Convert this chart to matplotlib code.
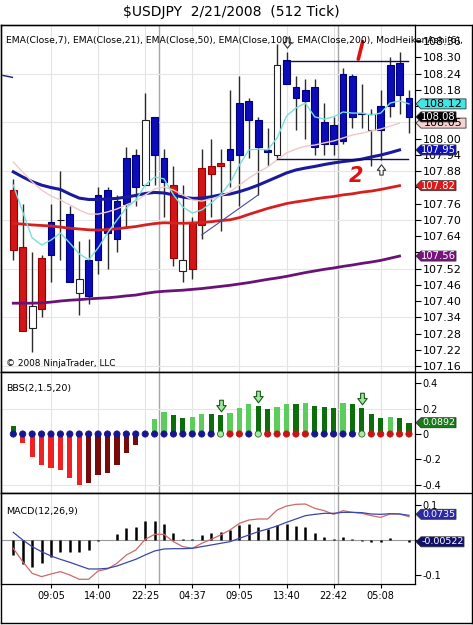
import matplotlib
matplotlib.use("Agg")
import matplotlib.pyplot as plt
import numpy as np
from matplotlib.patches import Rectangle, Polygon
from matplotlib.lines import Line2D
from matplotlib.path import Path

# ---------------- data ----------------
title = "$USDJPY  2/21/2008  (512 Tick)"
header = ("EMA(Close,7), EMA(Close,21), EMA(Close,50), EMA(Close,100), "
          "EMA(Close,200), ModHeikenAshi(6),")
copyright_txt = "\u00a9 2008 NinjaTrader, LLC"
bbs_title = "BBS(2,1.5,20)"
macd_title = "MACD(12,26,9)"

time_ticks = [4, 9, 14, 19, 24, 29, 34, 39]
time_labels = ["09:05", "14:00", "22:25", "04:37", "09:05", "13:40", "22:42", "05:08"]
session_breaks = [15.5, 34.5]

# Heiken-Ashi style candles
opens = [107.81, 107.60, 107.30, 107.56, 107.57, 107.70, 107.47, 107.43, 107.42, 107.55,
         107.65, 107.63, 107.76, 107.82, 107.83, 107.94, 107.84, 107.83, 107.51, 107.69,
         107.89, 107.90, 107.91, 107.92, 107.94, 108.07, 107.97, 107.952, 107.94, 108.20,
         108.15, 108.14, 107.97, 107.98, 107.98, 107.99, 108.08, 108.091, 108.03, 108.03,
         108.12, 108.16, 108.08]
highs = [107.85, 107.76, 107.58, 107.57, 107.76, 107.88, 107.75, 107.62, 107.63, 107.82,
         107.82, 107.79, 107.97, 107.96, 108.17, 108.08, 107.96, 107.90, 107.83, 107.71,
         107.96, 108.00, 107.96, 108.18, 108.23, 108.15, 108.08, 108.04, 108.35, 108.32,
         108.23, 108.22, 108.22, 108.13, 108.08, 108.26, 108.24, 108.20, 108.11, 108.18,
         108.30, 108.32, 108.18]
lows = [107.55, 107.29, 107.21, 107.34, 107.47, 107.55, 107.47, 107.35, 107.39, 107.50,
        107.52, 107.58, 107.67, 107.75, 107.83, 107.83, 107.71, 107.53, 107.47, 107.48,
        107.63, 107.71, 107.66, 107.82, 107.75, 107.93, 107.79, 107.90, 107.93, 108.20,
        108.03, 108.00, 107.94, 107.94, 107.94, 107.98, 108.04, 108.04, 107.90, 107.92,
        108.08, 108.09, 108.02]
closes = [107.59, 107.29, 107.38, 107.37, 107.69, 107.70, 107.72, 107.48, 107.55, 107.79,
          107.81, 107.77, 107.93, 107.94, 108.07, 108.08, 107.93, 107.56, 107.55, 107.52,
          107.68, 107.87, 107.90, 107.96, 108.13, 108.14, 108.07, 107.956, 108.27, 108.29,
          108.19, 108.18, 108.19, 108.06, 108.05, 108.24, 108.23, 108.095, 108.09, 108.12,
          108.27, 108.28, 108.15]
kinds = "rrwrb" "kbwbb" "bbbbw" "bbrwr" "rrrbb" "bbbwb" "bbbbb" "bbbwb" "bbb"

ema7 = [107.828, 107.729, 107.633, 107.607, 107.625, 107.651, 107.614, 107.574, 107.552, 107.596,
        107.651, 107.699, 107.744, 107.773, 107.828, 107.858, 107.851, 107.792, 107.747, 107.725,
        107.736, 107.762, 107.792, 107.836, 107.902, 107.958, 107.961, 107.958, 108.002, 108.083,
        108.113, 108.131, 108.080, 108.072, 108.080, 108.098, 108.094, 108.094, 108.087, 108.094,
        108.131, 108.139, 108.128]
ema21 = [107.913, 107.876, 107.840, 107.810, 107.788, 107.773, 107.755, 107.736, 107.721, 107.721,
         107.729, 107.740, 107.755, 107.769, 107.792, 107.814, 107.821, 107.810, 107.792, 107.773,
         107.769, 107.777, 107.788, 107.803, 107.828, 107.854, 107.876, 107.895, 107.921, 107.947,
         107.961, 107.972, 107.976, 107.984, 107.991, 108.002, 108.013, 108.020, 108.028, 108.035,
         108.046, 108.057]
ema50 = [107.877, 107.858, 107.841, 107.828, 107.819, 107.812, 107.795, 107.780, 107.775, 107.775,
         107.777, 107.779, 107.784, 107.790, 107.797, 107.801, 107.799, 107.792, 107.784, 107.779,
         107.780, 107.785, 107.792, 107.795, 107.804, 107.815, 107.828, 107.843, 107.858, 107.873,
         107.884, 107.891, 107.897, 107.904, 107.910, 107.915, 107.919, 107.924, 107.932, 107.939,
         107.948, 107.958]
ema100 = [107.687, 107.684, 107.681, 107.679, 107.677, 107.673, 107.669, 107.666, 107.663, 107.662,
          107.664, 107.667, 107.671, 107.675, 107.681, 107.686, 107.689, 107.688, 107.687, 107.688,
          107.690, 107.693, 107.697, 107.700, 107.708, 107.720, 107.731, 107.742, 107.751, 107.760,
          107.766, 107.771, 107.777, 107.782, 107.786, 107.792, 107.796, 107.802, 107.806, 107.812,
          107.819, 107.826]
ema200 = [107.392, 107.392, 107.392, 107.393, 107.396, 107.400, 107.403, 107.405, 107.408, 107.410,
          107.412, 107.415, 107.419, 107.422, 107.428, 107.433, 107.436, 107.438, 107.440, 107.443,
          107.446, 107.450, 107.454, 107.458, 107.463, 107.468, 107.474, 107.480, 107.485, 107.491,
          107.498, 107.505, 107.511, 107.517, 107.522, 107.528, 107.533, 107.539, 107.544, 107.550,
          107.558, 107.566]
last_price = 108.08
price_tag_texts = ["108.05", "108.08", "108.12", "107.95", "107.82", "107.56"]
hidden_price_ticks = ["108.12", "108.06", "107.82", "107.58"]

# drawn objects on price chart
range_top = 108.287
range_bottom = 107.924
trend_bars = [20, 26]
trend_prices = [107.644, 107.792]

bbs = [0.06, -0.069, -0.185, -0.244, -0.268, -0.286, -0.347, -0.40, -0.387, -0.326,
       -0.305, -0.244, -0.148, -0.087, 0.0, 0.119, 0.17, 0.151, 0.125, 0.135,
       0.162, 0.155, 0.148, 0.167, 0.209, 0.241, 0.225, 0.196, 0.217, 0.241,
       0.238, 0.246, 0.225, 0.217, 0.209, 0.246, 0.241, 0.209, 0.162, 0.127,
       0.135, 0.127, 0.089]
bbs_shade = "G" "RRRRRRR" "DDDDDD" "-" "LLGGLLGG" "LLLGGLLG" "LGGGLGGG" "GLGG"
bbs_dots = "B" * 22 + "gRRBgRRRRR" + "BBBBB" + "g" + "RRRRR"
bbs_alerts = [22, 26, 37]
bbs_last = 0.0892

macd_hist = [-0.043, -0.069, -0.078, -0.067, -0.048, -0.033, -0.034, -0.035, -0.029, -0.004,
             0.0, 0.016, 0.034, 0.037, 0.054, 0.054, 0.047, 0.021, 0.003, 0.003,
             0.013, 0.021, 0.023, 0.029, 0.044, 0.047, 0.036, 0.030, 0.044, 0.047,
             0.040, 0.038, 0.019, 0.0095, 0.002, 0.0095, 0.002, -0.003, -0.005, -0.006,
             0.005, 0.0, -0.005]
macd_line = [-0.0238, -0.0619, -0.0952, -0.1047, -0.0971, -0.0904, -0.1000, -0.1123, -0.1123, -0.0885,
             -0.0828, -0.0666, -0.0428, -0.0286, 0.0019, 0.0162, 0.0162, -0.0048, -0.0190, -0.0238,
             -0.0095, 0.0019, 0.0143, 0.0286, 0.0476, 0.0571, 0.0600, 0.0600, 0.0857, 0.0971,
             0.1019, 0.1028, 0.0904, 0.0838, 0.0733, 0.0838, 0.0790, 0.0762, 0.0695, 0.0647,
             0.0743, 0.0743, 0.0666]
macd_signal = [0.0219, 0.0, -0.0190, -0.0333, -0.0457, -0.0552, -0.0638, -0.0733, -0.0828, -0.0828,
               -0.0809, -0.0743, -0.0647, -0.0552, -0.0428, -0.0314, -0.0257, -0.0248, -0.0248, -0.0238,
               -0.0190, -0.0143, -0.0095, -0.0048, 0.0048, 0.0143, 0.0238, 0.0314, 0.0400, 0.0505,
               0.0600, 0.0695, 0.0733, 0.0762, 0.0762, 0.0790, 0.0790, 0.0781, 0.0743, 0.0733,
               0.0752, 0.0743, 0.0705]
macd_tag_vals = [0.0735, -0.00522]
macd_tag_texts = ["0.0735", "-0.00522"]

# ---------------- layout ----------------
W, H = 473, 625
fig = plt.figure(figsize=(W / 100, H / 100), dpi=100)
fig.patch.set_facecolor("white")


def fx(px):
    return px / W


def fy(py):
    return 1 - py / H


def fline(x0, y0, x1, y1, **kw):
    fig.add_artist(Line2D([fx(x0), fx(x1)], [fy(y0), fy(y1)], transform=fig.transFigure,
                          color="black", lw=1.0, zorder=10, **kw))


L, R = 1, 415
T1, B1, B2, B3 = 25, 372, 493, 584.3
ax1 = fig.add_axes([fx(L), fy(B1), (R - L) / W, (B1 - T1) / H])
ax2 = fig.add_axes([fx(L), fy(B2), (R - L) / W, (B2 - B1) / H])
ax3 = fig.add_axes([fx(L), fy(B3), (R - L) / W, (B3 - B2) / H])

n = len(closes)
x = np.arange(n)
xlim = (-1.306, 42.64)
for ax in (ax1, ax2, ax3):
    ax.set_xlim(*xlim)
    for s in ax.spines.values():
        s.set_color("black")
        s.set_linewidth(0.9)
    ax.yaxis.tick_right()
    ax.tick_params(axis="y", direction="out", length=4, width=0.8, pad=1.5, colors="black")
    for g in time_ticks:
        ax.axvline(g, color="#e3e3e3", lw=0.8, zorder=0)
    for b in session_breaks:
        ax.axvline(b, color="#a6a6a6", lw=1.0, zorder=0)
ax1.set_xticks([])
ax2.set_xticks([])

# ---------------- price panel ----------------
ax1.set_ylim(107.1379, 108.4193)
pt = np.round(np.arange(107.16, 108.361, 0.06), 2)
ax1.set_yticks(pt)
ax1.set_yticklabels([("" if f"{v:.2f}" in hidden_price_ticks else f"{v:.2f}") for v in pt],
                    fontsize=8)
for v in [107.16, 107.34, 107.52, 107.70, 107.88, 108.06, 108.24]:
    ax1.axhline(v, color="#e6e6e6", lw=0.8, zorder=0)

colmap = {"r": ("#d01616", "#9a0000"), "b": ("#0c0cb8", "#000078"),
          "w": ("white", "#222222"), "k": ("white", "#111111")}
for i in range(n):
    fc, ec = colmap[kinds[i]]
    ax1.vlines(i, lows[i], highs[i], color="#2a2a2a", lw=1.0, zorder=2)
    lo, hi = min(opens[i], closes[i]), max(opens[i], closes[i])
    ax1.add_patch(Rectangle((i - 0.36, lo), 0.72, hi - lo, facecolor=fc, edgecolor=ec,
                            lw=0.8, zorder=3))

xe = x[:len(ema50)]
ax1.plot(xe, ema200, color="#6a1276", lw=2.0, zorder=4)
ax1.plot(xe, ema100, color="#d62020", lw=2.0, zorder=4)
ax1.plot(xe, ema50, color="#1a1a9a", lw=2.2, zorder=4)
ax1.plot(xe, ema21, color="#f0c8c8", lw=1.0, zorder=4)
ax1.plot(x, ema7, color="#78dede", lw=1.0, zorder=5)

ax1.plot([29, 41.9], [range_top, range_top], color="#101050", lw=1.0, zorder=5)
ax1.plot([28, 41.9], [range_bottom, range_bottom], color="#101050", lw=1.0, zorder=5)
ax1.plot(trend_bars, trend_prices, color="#4a4a9a", lw=0.8, zorder=5)
ax1.plot([-1.1, -0.1], [108.233, 108.226], color="#1a1a7a", lw=1.0, zorder=5)

dverts = [(-0.3, 1.0), (0.3, 1.0), (0.3, 0.15), (0.75, 0.15), (0.0, -0.85), (-0.75, 0.15),
          (-0.3, 0.15), (-0.3, 1.0)]
down_arrow = Path(dverts, [Path.MOVETO] + [Path.LINETO] * 6 + [Path.CLOSEPOLY])
up_arrow = Path([(a, -b) for a, b in dverts], [Path.MOVETO] + [Path.LINETO] * 6 + [Path.CLOSEPOLY])

ax1.plot(29, 108.352, marker=down_arrow, ms=8, mfc="white", mec="#333333", mew=0.8, zorder=7,
         clip_on=False)
ax1.plot(39, 107.886, marker=up_arrow, ms=8, mfc="white", mec="#333333", mew=0.8, zorder=7)

# red hand annotations
ax1.plot([36.62, 37.09], [108.293, 108.358], color="#e01010", lw=2.6,
         solid_capstyle="round", zorder=8)
ax1.text(36.4, 107.862, "2", color="#e01010", fontsize=15, fontweight="bold",
         fontstyle="italic", ha="center", va="center", zorder=8)

fig.text(fx(231), fy(12), title, ha="center", va="center", fontsize=10)
fig.text(fx(6), fy(40), header, ha="left", va="center", fontsize=6.7, zorder=9)
fig.text(fx(6), fy(363), copyright_txt, ha="left", va="center", fontsize=6.4)

# ---------------- BBS panel ----------------
ax2.set_ylim(-0.4664, 0.4901)
bt = [0.4, 0.2, 0, -0.2, -0.4]
ax2.set_yticks(bt)
ax2.set_yticklabels(["0.4", "0.2", "0", "-0.2", "-0.4"], fontsize=7)
for v in [0.2, -0.4]:
    ax2.axhline(v, color="#e6e6e6", lw=0.8, zorder=0)
shade_col = {"L": "#5ccc5c", "G": "#0b6e0b", "R": "#ee2222", "D": "#780a0a", "-": "none"}
ax2.bar(x, bbs, width=0.55, color=[shade_col[c] for c in bbs_shade], zorder=2)
dot_fc = {"B": "#16168e", "R": "#c81414", "g": "#a8e8a8"}
dot_ec = {"B": "#16168e", "R": "#c81414", "g": "#2a6a2a"}
ax2.scatter(x, np.zeros(n), s=20, c=[dot_fc[c] for c in bbs_dots],
            edgecolors=[dot_ec[c] for c in bbs_dots], linewidths=0.6, zorder=3)
for b in bbs_alerts:
    ax2.plot(b, bbs[b] + 0.07, marker=down_arrow, ms=9, mfc="#a0e8a0", mec="#1a5a1a",
             mew=0.8, zorder=4)
fig.text(fx(6), fy(389), bbs_title, ha="left", va="center", fontsize=6.8)

# ---------------- MACD panel ----------------
ax3.set_ylim(-0.1266, 0.1343)
ax3.set_yticks([0.1, 0, -0.1])
ax3.set_yticklabels(["0.1", "", "-0.1"], fontsize=7)
ax3.axhline(0, color="#9a9a9a", lw=0.8, zorder=1)
ax3.vlines(x, 0, macd_hist, color="black", lw=1.8, zorder=2)
ax3.plot(x, macd_line, color="#d06868", lw=0.9, zorder=3)
ax3.plot(x, macd_signal, color="#3a46a8", lw=0.9, zorder=3)
ax3.set_xticks(time_ticks)
ax3.set_xticklabels(time_labels, fontsize=7)
ax3.tick_params(axis="x", direction="out", length=3, width=0.8, pad=2)
fig.text(fx(6), fy(511.5), macd_title, ha="left", va="center", fontsize=6.8)


# ---------------- value tags ----------------
def tag(ax, val, text, fc, tc, width, fs=6.8, ec="#333333"):
    yc = ax.transData.transform((0, val))[1]
    x0 = 416
    xp = x0 + 5
    x1 = x0 + width
    h = 10
    verts = [(x0, yc), (xp, yc + h / 2), (x1, yc + h / 2), (x1, yc - h / 2), (xp, yc - h / 2)]
    fig.add_artist(Polygon([(vx / W, vy / H) for vx, vy in verts], closed=True,
                           transform=fig.transFigure, facecolor=fc, edgecolor=ec, lw=0.6,
                           zorder=11))
    fig.text((xp + x1) / 2 / W, yc / H, text, color=tc, fontsize=fs, ha="center",
             va="center", zorder=12)


tag(ax1, ema21[-1], price_tag_texts[0], "#f8d2d2", "black", 50, fs=8)
tag(ax1, last_price, price_tag_texts[1], "black", "white", 40, fs=7.2)
tag(ax1, ema7[-1], price_tag_texts[2], "#40e6e6", "black", 50, fs=8)
tag(ax1, ema50[-1], price_tag_texts[3], "#1010b8", "white", 40, fs=7.2)
tag(ax1, ema100[-1], price_tag_texts[4], "#dc1a1a", "white", 40, fs=7.2)
tag(ax1, ema200[-1], price_tag_texts[5], "#7a1282", "white", 40, fs=7.2)
tag(ax2, bbs_last, "0.0892", "#1a7a1a", "white", 40)
tag(ax3, macd_tag_vals[0], macd_tag_texts[0], "#2a2aa8", "white", 40)
tag(ax3, macd_tag_vals[1], macd_tag_texts[1], "#10106a", "white", 48)

# ---------------- outer frame ----------------
fline(0.5, T1, 471.5, T1)
fline(0.5, 623, 471.5, 623)
fline(0.5, T1, 0.5, 623)
fline(471.5, T1, 471.5, 623)
fline(0.5, B1, 471.5, B1)
fline(0.5, B2, 471.5, B2)

fig.savefig("out.png", dpi=100)
